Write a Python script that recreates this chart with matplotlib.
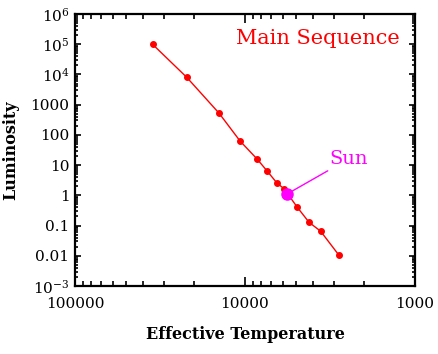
import numpy as np
import matplotlib
matplotlib.use("Agg")
import matplotlib.pyplot as plt
from matplotlib.ticker import LogLocator, FixedLocator, FixedFormatter, NullFormatter

# main sequence points
temp = [35000, 22000, 14200, 10700, 8500, 7430, 6490, 5900, 4920, 4200, 3590, 2800]
lum = [1e5, 8000, 520, 63, 16, 6.5, 2.56, 1.66, 0.4, 0.128, 0.065, 0.0104]

sun_temp = 5700
sun_lum = 1.08

yticks = [1e-3, 1e-2, 1e-1, 1, 10, 100, 1000, 1e4, 1e5, 1e6]
ylabels = [r"$\mathregular{10^{-3}}$", "0.01", "0.1", "1", "10", "100", "1000",
           r"$\mathregular{10^{4}}$", r"$\mathregular{10^{5}}$", r"$\mathregular{10^{6}}$"]
xticks = [100000, 10000, 1000]
xlabels = ["100000", "10000", "1000"]

plt.rcParams['font.family'] = ['DejaVu Serif']
plt.rcParams['mathtext.fontset'] = 'dejavuserif'

fig = plt.figure(figsize=(4.38, 3.54), dpi=100)
ax = fig.add_axes([75 / 438, 1 - 286 / 354, 340 / 438, 272 / 354])

ax.plot(temp, lum, color='red', lw=1, marker='o', ms=4)
ax.plot([sun_temp], [sun_lum], 'o', color='magenta', ms=8)

ax.set_xscale('log')
ax.set_yscale('log')
ax.set_xlim(100000, 1000)
ax.set_ylim(1e-3, 1e6)

ax.yaxis.set_major_locator(FixedLocator(yticks))
ax.yaxis.set_major_formatter(FixedFormatter(ylabels))
ax.yaxis.set_minor_locator(LogLocator(base=10, subs=np.arange(2, 10), numticks=20))
ax.yaxis.set_minor_formatter(NullFormatter())
ax.xaxis.set_major_locator(FixedLocator(xticks))
ax.xaxis.set_major_formatter(FixedFormatter(xlabels))
ax.xaxis.set_minor_locator(LogLocator(base=10, subs=np.arange(2, 10), numticks=20))
ax.xaxis.set_minor_formatter(NullFormatter())

for s in ax.spines.values():
    s.set_linewidth(1.6)
ax.tick_params(which='both', direction='in', top=True, right=True, labelsize=11, width=1.2)
ax.tick_params(axis='x', which='major', length=6.5, pad=8)
ax.tick_params(axis='x', which='minor', length=3.6)
ax.tick_params(axis='y', which='major', length=4.5, pad=4)
ax.tick_params(axis='y', which='minor', length=2.4)

ax.set_xlabel("Effective Temperature", fontsize=11.5, fontweight='bold', va='center')
ax.xaxis.set_label_coords(0.5, -0.18)
ax.set_ylabel("Luminosity", fontsize=11.5, fontweight='bold', va='center')
ax.yaxis.set_label_coords(-0.19, 0.5)

ax.text(0.955, 0.91, "Main Sequence", transform=ax.transAxes, color='red',
        fontsize=15, ha='right', va='center')
ax.annotate("Sun", xy=(sun_temp, sun_lum), xytext=(3200, 8), color='magenta',
            fontsize=14, ha='left', va='bottom',
            arrowprops=dict(arrowstyle='-', color='magenta', lw=1, shrinkA=0, shrinkB=0))

fig.savefig("out.png", dpi=100)
